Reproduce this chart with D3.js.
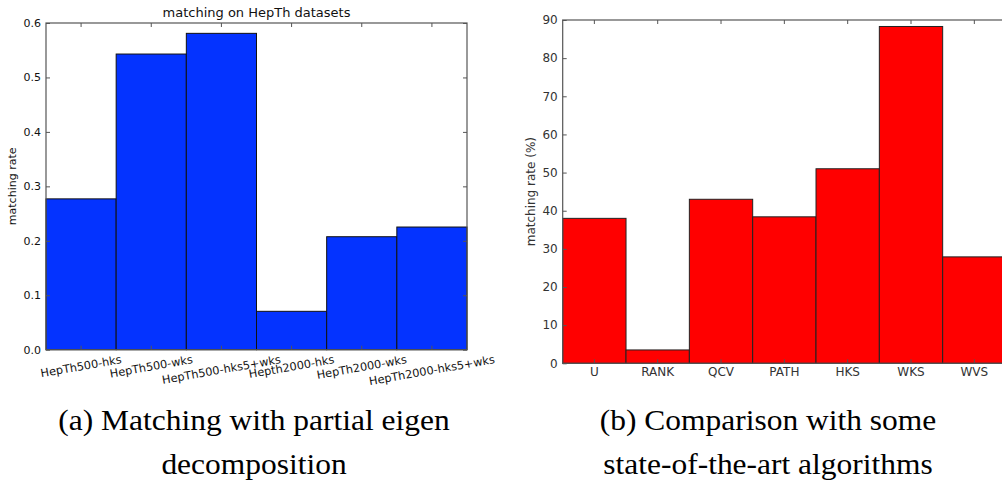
<!DOCTYPE html>
<html>
<head>
<meta charset="utf-8">
<script src="https://cdn.jsdelivr.net/npm/d3@7"></script>
<style>
html,body{margin:0;padding:0;background:#fff;}
svg{display:block;}
</style>
</head>
<body>
<svg id="chart" width="1002" height="483"></svg>
<script>
// ---- Data ----
const leftCategories = ["HepTh500-hks","HepTh500-wks","HepTh500-hks5+wks","Hepth2000-hks","HepTh2000-wks","HepTh2000-hks5+wks"];
const leftValues = [0.277, 0.543, 0.581, 0.0705, 0.2075, 0.2253];
const leftYTicks = [0.0, 0.1, 0.2, 0.3, 0.4, 0.5, 0.6];
const leftTitle = "matching on HepTh datasets";
const leftYLabel = "matching rate";

const rightCategories = ["U","RANK","QCV","PATH","HKS","WKS","WVS"];
const rightValues = [38.0, 3.5, 43.0, 38.4, 51.0, 88.3, 27.9];
const rightYTicks = [0,10,20,30,40,50,60,70,80,90];
const rightYLabel = "matching rate (%)";

const captionA = ["(a) Matching with partial eigen", "decomposition"];
const captionB = ["(b) Comparison with some", "state-of-the-art algorithms"];

// ---- Drawing ----
const svg = d3.select("#chart");
svg.append("rect").attr("width",1002).attr("height",483).attr("fill","#fff");

function panel(cfg){
  const g = svg.append("g");
  const x = d3.scaleBand().domain(cfg.categories).range([cfg.x0, cfg.x1]).padding(0);
  const y = d3.scaleLinear().domain([cfg.yTicks[0], cfg.yTicks[cfg.yTicks.length-1]]).range([cfg.y1, cfg.y0]);

  // bars
  g.append("g").selectAll("rect").data(cfg.values).join("rect")
    .attr("x",(d,i)=>x(cfg.categories[i]))
    .attr("y",d=>y(d))
    .attr("width",x.bandwidth())
    .attr("height",d=>y(0)-y(d))
    .attr("fill",cfg.color)
    .attr("stroke",cfg.edge)
    .attr("stroke-width",1);

  const tickCol = cfg.spine;
  const ax = g.append("g").attr("transform",`translate(${cfg.x0},0)`)
    .call(d3.axisLeft(y).tickValues(cfg.yTicks).tickFormat(cfg.fmt).tickSizeInner(-4).tickSizeOuter(0).tickPadding(5));
  const axR = g.append("g").attr("transform",`translate(${cfg.x1},0)`)
    .call(d3.axisRight(y).tickValues(cfg.yTicks).tickFormat("").tickSizeInner(-4).tickSizeOuter(0));
  const axB = g.append("g").attr("transform",`translate(0,${cfg.y1})`)
    .call(d3.axisBottom(x).tickSizeInner(-4).tickSizeOuter(0).tickFormat(cfg.rotate ? "" : (d=>d)).tickPadding(cfg.xPad));
  const axT = g.append("g").attr("transform",`translate(0,${cfg.y0})`)
    .call(d3.axisTop(x).tickSizeInner(-4).tickSizeOuter(0).tickFormat(""));
  [ax,axR,axB,axT].forEach(a=>{
    a.select(".domain").remove();
    a.selectAll("line").attr("stroke",tickCol);
    a.selectAll("text").attr("fill",cfg.textColor).style("font-family","DejaVu Sans").style("font-size",cfg.fontSize+"px");
  });
  g.append("rect").attr("x",cfg.x0).attr("y",cfg.y0).attr("width",cfg.x1-cfg.x0).attr("height",cfg.y1-cfg.y0)
    .attr("fill","none").attr("stroke",cfg.spine).attr("stroke-width",1.2);

  if(cfg.rotate){
    const th = cfg.rotate*Math.PI/180;
    cfg.categories.forEach(c=>{
      const t = g.append("text").text(c)
        .style("font-family","DejaVu Sans").style("font-size",cfg.xFont+"px")
        .attr("fill",cfg.textColor)
        .attr("text-anchor","middle").attr("dominant-baseline","central");
      const L = t.node().getComputedTextLength();
      const h = cfg.xFont*1.15;
      const half = (L*Math.sin(th) + h*Math.cos(th))/2;
      const cx = x(c)+x.bandwidth()/2;
      const cy = cfg.y1 + 3.5 + half;
      t.attr("transform",`translate(${cx},${cy}) rotate(${-cfg.rotate})`);
    });
  }

  g.append("text").text(cfg.ylabel)
    .attr("transform",`translate(${cfg.ylabelX},${(cfg.y0+cfg.y1)/2}) rotate(-90)`)
    .attr("text-anchor","middle").attr("dominant-baseline","central")
    .style("font-family","DejaVu Sans").style("font-size",cfg.ylabelFont+"px")
    .attr("fill",cfg.textColor);

  if(cfg.title){
    g.append("text").text(cfg.title)
      .attr("x",(cfg.x0+cfg.x1)/2).attr("y",cfg.y0-6)
      .attr("text-anchor","middle")
      .style("font-family","DejaVu Sans").style("font-size",cfg.titleFont+"px")
      .attr("fill","#111");
  }
}

panel({
  categories:leftCategories, values:leftValues, yTicks:leftYTicks,
  x0:46, x1:467, y0:23, y1:349.7,
  color:"#0433ff", edge:"#111", spine:"#555", textColor:"#111",
  fmt:d3.format(".1f"), fontSize:11, rotate:10, xFont:11.3, xPad:4,
  ylabel:leftYLabel, ylabelX:12, ylabelFont:11,
  title:leftTitle, titleFont:13
});

panel({
  categories:rightCategories, values:rightValues, yTicks:rightYTicks,
  x0:562.7, x1:1006, y0:20, y1:363.3,
  color:"#ff0000", edge:"#222", spine:"#555", textColor:"#333",
  fmt:d3.format("d"), fontSize:12, rotate:0, xFont:12, xPad:4,
  ylabel:rightYLabel, ylabelX:531, ylabelFont:12
});

// captions (Times-like, slightly wide)
function caption(lines, cx, baselines){
  lines.forEach((s,i)=>{
    svg.append("text").text(s)
      .attr("transform",`translate(${cx},${baselines[i]}) scale(1.085,1)`)
      .attr("text-anchor","middle")
      .style("font-family","Liberation Serif, Times New Roman, serif")
      .style("font-size","29px")
      .attr("fill","#000");
  });
}
caption(captionA, 254, [430, 474]);
caption(captionB, 768, [430, 474]);
</script>
</body>
</html>
